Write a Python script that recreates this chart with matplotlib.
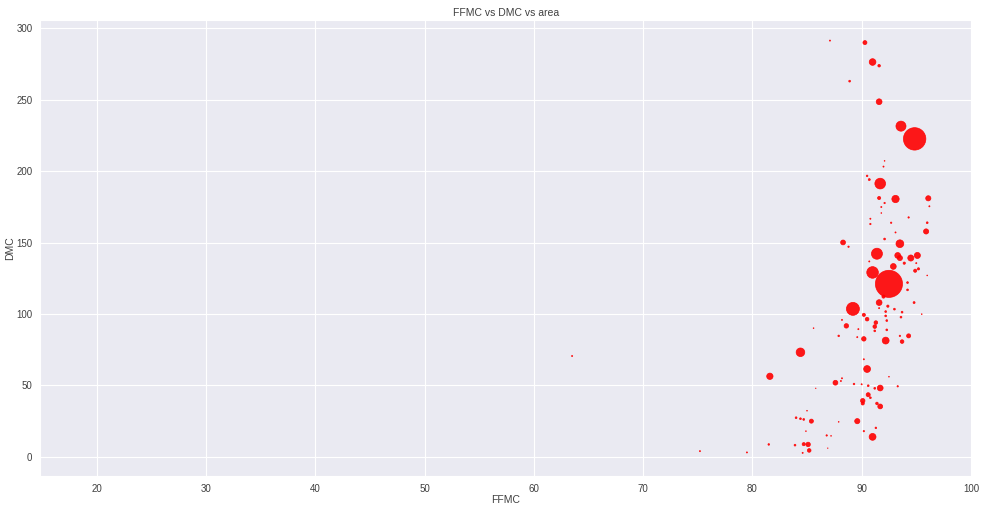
import matplotlib
matplotlib.use('Agg')
import matplotlib.pyplot as plt
import seaborn as sns

# values (fires with area 0 are invisible and left out)
ffmc = [87.1, 90.3, 91.0, 91.6, 88.9, 91.6, 93.6, 94.85,
        92.1, 92.0, 90.5, 90.7, 91.7, 91.6, 93.1, 96.1, 92.1, 91.8, 91.8, 96.2,
        94.3, 90.8, 90.8, 92.7, 96.0, 93.1, 95.9, 92.1, 88.3, 88.8, 93.5, 91.4,
        93.3, 93.5, 94.5, 95.1, 90.7, 92.9, 93.9, 95.0,
        91.0, 94.9, 95.2, 96.0, 92.5, 94.2, 94.2, 94.8, 91.6, 92.0, 92.4, 89.2,
        91.6, 93.0, 90.2, 92.2, 93.7, 93.6, 95.5, 90.5, 91.3, 91.2, 92.2, 92.3,
        88.2, 88.6, 89.7, 92.3, 91.2, 87.9, 90.2, 92.2, 93.5, 94.3, 93.7, 89.6,
        90.2, 90.5, 85.6, 84.4,
        81.6, 92.5, 87.6, 88.1, 88.2, 89.3, 90.0, 90.6, 91.2, 91.7, 93.3, 85.8,
        90.6, 90.8, 90.1, 90.1, 91.4, 91.7, 85.0, 84.0, 84.4, 84.7, 85.4, 87.9,
        89.6, 91.3, 90.2, 84.9, 91.0, 86.8, 87.2, 86.9, 81.5, 83.9, 84.7, 85.1,
        85.2, 84.6, 75.2, 79.5, 63.5]
dmc = [291.4, 290.0, 276.4, 273.8, 263.0, 248.6, 231.5, 222.6,
       207.2, 203.2, 196.7, 194.1, 191.3, 181.2, 180.5, 181.0, 177.7, 174.9, 170.7, 175.4,
       167.6, 166.7, 163.0, 163.9, 163.9, 157.1, 157.8, 152.5, 150.1, 147.1, 149.2, 142.2,
       141.0, 139.2, 139.2, 141.0, 136.8, 133.3, 135.6, 135.6,
       129.1, 130.3, 131.6, 127.0, 121.1, 122.0, 116.9, 108.0, 108.0, 112.2, 105.5, 103.6,
       104.1, 103.4, 99.4, 101.7, 101.3, 97.8, 99.9, 96.4, 94.0, 91.2, 98.7, 95.4,
       95.9, 91.7, 89.4, 88.9, 88.2, 84.7, 82.6, 81.4, 84.7, 84.7, 80.7, 83.8,
       68.3, 61.5, 90.1, 73.2,
       56.4, 56.1, 51.9, 53.1, 55.0, 51.0, 50.8, 49.8, 48.0, 48.2, 49.4, 48.0,
       43.5, 41.4, 39.3, 37.4, 37.4, 35.3, 32.3, 27.4, 26.7, 26.2, 25.0, 24.5,
       25.0, 20.3, 18.0, 18.0, 14.0, 15.0, 14.7, 6.1, 8.7, 8.2, 8.9, 8.7,
       4.5, 2.8, 4.0, 3.1, 70.6]
area = [2, 24, 66, 10, 5, 50, 150, 746,
        1, 2, 4, 6, 170, 15, 80, 40, 3, 2, 1, 2,
        3, 2, 3, 3, 5, 2, 40, 5, 35, 3, 90, 180,
        50, 40, 55, 55, 2, 50, 8, 2,
        200, 15, 8, 1, 1090, 5, 5, 6, 50, 15, 8, 250,
        2, 5, 15, 5, 5, 5, 1, 20, 20, 20, 5, 5,
        2, 30, 2, 5, 5, 4, 30, 70, 3, 25, 20, 2,
        2, 70, 1, 110,
        60, 1, 35, 2, 2, 4, 2, 5, 5, 50, 3, 0.5,
        25, 5, 30, 15, 10, 35, 1, 5, 5, 5, 25, 1,
        40, 4, 3, 1, 70, 3, 1, 0.5, 4, 5, 15, 30,
        20, 2, 2, 2, 2]

sns.set_style('darkgrid')
plt.rcParams['font.family'] = ['Liberation Sans', 'DejaVu Sans']
plt.rcParams['text.color'] = '0.25'
plt.rcParams['axes.labelcolor'] = '0.25'
plt.rcParams['xtick.color'] = '0.25'
plt.rcParams['ytick.color'] = '0.25'

fig = plt.figure(figsize=(9.88, 5.12), dpi=100)
ax = fig.add_axes([0.0405, 0.0703, 0.9433, 0.8906])
ax.scatter(ffmc, dmc, s=[a * 0.35 for a in area], c='red', alpha=0.9,
           edgecolors='face', linewidths=0.5)
ax.set_xlim(14.8, 100.1)
ax.set_ylim(-13.4, 305.8)
ax.set_title('FFMC vs DMC vs area', fontsize=7.5, pad=3)
ax.set_xlabel('FFMC', fontsize=7.5, labelpad=1)
ax.set_ylabel('DMC', fontsize=7.5, labelpad=1)
ax.tick_params(labelsize=7, pad=2)
fig.savefig('out.png', dpi=100)
